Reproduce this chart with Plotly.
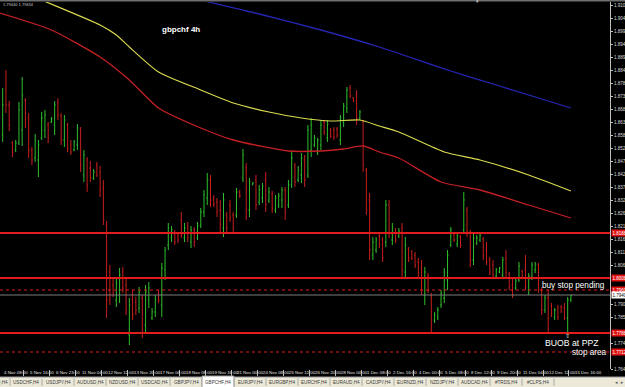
import plotly.graph_objects as go

# ---------------- DATA (GBPCHF H4, prices x 10000) ----------------
open_x1e4 = [18580,18760,18700,18548,18520,18548,18600,18720,18648,18520,
 18488,18480,18568,18600,18620,18632,18620,18708,18656,18560,
 18620,18540,18520,18540,18600,18420,18480,18448,18408,18460,
 18432,18368,18220,18032,17980,17920,17960,18032,17980,17780,
 17920,17912,17888,17928,17820,17920,17848,17872,17948,17900,
 18040,18140,18168,18192,18180,18240,18168,18216,18152,18200,
 18168,18220,18272,18328,18400,18328,18312,18280,18208,18260,
 18300,18260,18260,18352,18408,18448,18280,18380,18400,18312,
 18328,18400,18320,18344,18280,18300,18320,18360,18300,18380,
 18460,18400,18420,18480,18420,18520,18540,18520,18540,18632,
 18568,18600,18600,18604,18560,18632,18688,18768,18728,18740,
 18648,18632,18440,18320,18100,18120,18176,18160,18152,18300,
 18160,18200,18176,18208,18032,18124,18112,18100,18072,18048,
 17940,18016,17936,17840,17852,17900,17928,18000,18140,18184,
 18144,18172,18200,18280,18188,18080,18148,18160,18164,18120,
 18080,18060,18016,18032,18020,18088,18024,17980,17968,18000,
 18036,18040,17960,18012,18040,18060,17960,17880,17928,17896,
 17852,17888,17892,17888,17848,17920]
high_x1e4 = [18768,18840,18716,18556,18560,18712,18812,18728,18668,18532,
 18584,18560,18672,18680,18632,18652,18716,18728,18668,18660,
 18628,18560,18560,18624,18612,18520,18492,18476,18444,18472,
 18456,18400,18236,18060,18008,18008,18048,18052,18012,17928,
 17960,17932,17972,17940,17980,17992,17888,17940,17960,18068,
 18132,18228,18216,18200,18188,18272,18228,18232,18216,18212,
 18232,18288,18360,18428,18420,18340,18328,18320,18348,18272,
 18320,18272,18368,18360,18524,18468,18408,18392,18420,18380,
 18388,18432,18372,18356,18340,18348,18372,18372,18400,18516,
 18468,18456,18508,18500,18620,18648,18580,18568,18640,18640,
 18640,18608,18612,18612,18660,18708,18772,18780,18732,18760,
 18680,18640,18448,18348,18172,18172,18188,18172,18320,18320,
 18228,18208,18208,18228,18172,18132,18120,18112,18088,18080,
 18052,18028,17948,17872,17892,17960,18048,18120,18212,18188,
 18188,18180,18352,18292,18200,18192,18180,18188,18172,18152,
 18092,18080,18048,18052,18092,18120,18032,18012,18008,18072,
 18040,18100,18028,18072,18072,18068,17972,17940,17960,17908,
 17888,17900,17900,17908,17932,17940]
low_x1e4 = [18552,18668,18596,18492,18512,18540,18536,18608,18488,18460,
 18472,18412,18560,18568,18548,18628,18580,18640,18540,18532,
 18512,18500,18516,18520,18432,18392,18352,18392,18400,18412,
 18332,18220,17848,17900,17932,17892,17908,17948,17860,17740,
 17840,17860,17868,17768,17792,17888,17840,17852,17908,17852,
 18000,18120,18152,18140,18148,18168,18152,18152,18128,18132,
 18160,18208,18252,18300,18292,18292,18252,18192,18172,18192,
 18232,18192,18248,18328,18392,18240,18252,18380,18280,18300,
 18308,18272,18308,18268,18268,18288,18288,18240,18288,18368,
 18372,18392,18388,18372,18408,18492,18532,18500,18520,18580,
 18552,18568,18560,18568,18540,18612,18668,18728,18712,18620,
 18640,18432,18260,18080,18080,18108,18128,18072,18132,18168,
 18140,18148,18168,18012,18012,18072,18080,18048,18012,17940,
 17900,17948,17788,17828,17840,17888,17908,17960,18132,18152,
 18132,18128,18188,18172,18052,18060,18140,18152,18080,18060,
 18020,18008,18012,18028,18008,18012,17960,17928,17960,17992,
 18008,17960,17940,18000,18028,17948,17860,17868,17788,17852,
 17840,17840,17868,17840,17792,17912]
close_x1e4 = [18700,18700,18620,18512,18548,18680,18740,18640,18520,18480,
 18560,18540,18648,18660,18568,18644,18700,18660,18560,18640,
 18528,18512,18552,18608,18460,18500,18380,18408,18432,18420,
 18360,18240,17920,17940,17952,17988,18020,17968,17880,17900,
 17860,17880,17952,17800,17952,17968,17872,17920,17920,18048,
 18120,18208,18200,18152,18160,18180,18208,18168,18200,18152,
 18216,18272,18340,18400,18320,18304,18272,18220,18320,18208,
 18248,18208,18352,18336,18500,18280,18392,18388,18300,18360,
 18376,18300,18352,18288,18328,18336,18360,18272,18380,18488,
 18392,18440,18488,18400,18600,18620,18568,18560,18620,18592,
 18624,18576,18572,18580,18648,18696,18760,18736,18716,18648,
 18672,18460,18280,18120,18152,18160,18140,18088,18300,18192,
 18208,18160,18196,18040,18140,18088,18088,18060,18028,17960,
 18032,17960,17820,17860,17880,17948,18032,18100,18200,18160,
 18176,18140,18320,18192,18080,18168,18168,18180,18100,18072,
 18032,18020,18040,18048,18080,18032,17972,17940,17996,18056,
 18012,17972,18016,18060,18064,17960,17880,17928,17848,17864,
 17880,17852,17876,17848,17920,17940]

# moving averages (bar index, price)
ma_blue_idx = [58, 61, 79, 98, 116, 137, 153, 175]
ma_blue = [1.9132, 1.9120, 1.9064, 1.9000, 1.8932, 1.8840, 1.8776, 1.8688]
ma_yellow_idx = [10, 12, 30, 35, 39, 48, 61, 71, 82, 92, 101, 110, 116, 122, 136, 147, 162, 175]
ma_yellow = [1.9132, 1.9120, 1.9020, 1.8980, 1.8932, 1.8832, 1.8760, 1.8708, 1.8672, 1.8648,
             1.8636, 1.8640, 1.8616, 1.8592, 1.8512, 1.8480, 1.8420, 1.8356]
ma_red_idx = [-1, 15, 30, 39, 48, 61, 71, 88, 98, 105, 111, 116, 122, 135, 147, 162, 175]
ma_red = [1.9068, 1.9000, 1.8892, 1.8800, 1.8688, 1.8608, 1.8560, 1.8516, 1.8516, 1.8524,
          1.8536, 1.8512, 1.8488, 1.8392, 1.8360, 1.8300, 1.8248]

# horizontal levels
solid_levels = [1.8188, 1.8008, 1.7788]
dotted_levels = [1.7960, 1.7712]
bid_price = 1.7940

# price axis tick labels (those hidden under the level labels are left out)
price_ticks = [1.9100, 1.9048, 1.8996, 1.8944, 1.8892, 1.8840, 1.8788, 1.8736, 1.8684, 1.8632,
               1.8580, 1.8528, 1.8476, 1.8424, 1.8372, 1.8320, 1.8268, 1.8216, 1.8164, 1.8112,
               1.8060, 1.7904, 1.7852, 1.7748, 1.7644]

# time labels (every 8 bars)
time_labels = ["4 Nov 08:00", "5 Nov 16:00", "6 Nov 23:00", "11 Nov 04:00", "12 Nov 12:00",
               "13 Nov 20:00", "17 Nov 04:00", "18 Nov 08:00", "19 Nov 16:00", "21 Nov 00:00",
               "24 Nov 08:00", "25 Nov 12:00", "26 Nov 20:00", "28 Nov 04:00", "1 Dec 08:00",
               "2 Dec 16:00", "4 Dec 00:00", "5 Dec 08:00", "8 Dec 12:00", "9 Dec 20:00",
               "11 Dec 04:00", "12 Dec 12:00", "15 Dec 16:00"]
time_label_bars = [8 * k for k in range(len(time_labels))]

tabs = ["EURUSD,H4", "USDCHF,H4", "USDJPY,H4", "AUDUSD,H4", "NZDUSD,H4", "USDCAD,H4",
        "GBPJPY,H4", "GBPCHF,H4", "EURJPY,H4", "EURGBP,H4", "EURCHF,H4", "EURAUD,H4",
        "CADJPY,H4", "EURNZD,H4", "NZDJPY,H4", "AUDCAD,H4", "#TRDS,H4", "#CLPS,H4"]
active_tab = "GBPCHF,H4"

# ---------------- FIGURE ----------------
W, H = 625, 387
PL, PR, PT, PB = 0, 610, 2, 369
FONT = "Liberation Sans, Arial, sans-serif"
GREEN = "#2EC02E"
RED = "#C81E1E"
LEVEL_RED = "#E01C1C"


def px(X):
    return (X - PL) / (PR - PL)


def py(Y):
    return (PB - Y) / (PB - PT)


o = [v / 10000 for v in open_x1e4]
h = [v / 10000 for v in high_x1e4]
l = [v / 10000 for v in low_x1e4]
c = [v / 10000 for v in close_x1e4]
bars = list(range(len(o)))

fig = go.Figure()
fig.add_trace(go.Scatter(x=ma_blue_idx, y=ma_blue, mode="lines", hoverinfo="skip",
                         line=dict(color="#2626B4", width=1.3, shape="spline", smoothing=0.6)))
fig.add_trace(go.Scatter(x=ma_yellow_idx, y=ma_yellow, mode="lines", hoverinfo="skip",
                         line=dict(color="#DADA50", width=1.1, shape="spline", smoothing=0.6)))
fig.add_trace(go.Scatter(x=ma_red_idx, y=ma_red, mode="lines", hoverinfo="skip",
                         line=dict(color="#C42024", width=1.3, shape="spline", smoothing=0.6)))
fig.add_trace(go.Ohlc(x=bars, open=o, high=h, low=l, close=c, tickwidth=0.3,
                      increasing=dict(line=dict(color=GREEN, width=1)),
                      decreasing=dict(line=dict(color=RED, width=1)),
                      hoverinfo="skip", showlegend=False))

shapes = []
for lv in solid_levels:
    shapes.append(dict(type="line", xref="paper", yref="y", x0=0, x1=1, y0=lv, y1=lv,
                       line=dict(color=LEVEL_RED, width=2)))
for lv in dotted_levels:
    shapes.append(dict(type="line", xref="paper", yref="y", x0=0, x1=1, y0=lv, y1=lv,
                       line=dict(color=LEVEL_RED, width=1, dash="dot")))
shapes.append(dict(type="line", xref="paper", yref="y", x0=0, x1=1, y0=bid_price, y1=bid_price,
                   line=dict(color="#7C7C7C", width=1)))
# top strip
shapes.append(dict(type="rect", xref="paper", yref="paper", x0=px(0), x1=px(W), y0=py(1.6), y1=py(-1),
                   line=dict(width=0), fillcolor="#6E6E6E", layer="above"))
# tab bar
shapes.append(dict(type="rect", xref="paper", yref="paper", x0=px(0), x1=px(W), y0=py(387.5), y1=py(377),
                   line=dict(width=0), fillcolor="#ECE9D8", layer="above"))
shapes.append(dict(type="line", xref="paper", yref="paper", x0=px(0), x1=px(W), y0=py(377), y1=py(377),
                   line=dict(color="#9A9A9A", width=1), layer="above"))

annotations = []
TAB_W = 32
for k, name in enumerate(tabs):
    x0 = 10 + TAB_W * (k - 1)
    x1 = x0 + TAB_W
    if name == active_tab:
        shapes.append(dict(type="rect", xref="paper", yref="paper", x0=px(x0), x1=px(x1),
                           y0=py(387.5), y1=py(376), fillcolor="#FFFFFF",
                           line=dict(color="#9A9A9A", width=1), layer="above"))
    shapes.append(dict(type="line", xref="paper", yref="paper", x0=px(x1), x1=px(x1),
                       y0=py(386), y1=py(378.5), line=dict(color="#A8A8A8", width=1), layer="above"))
    annotations.append(dict(text=name, xref="paper", yref="paper", x=px((x0 + x1) / 2), y=py(382.3),
                            xanchor="center", yanchor="middle", showarrow=False,
                            font=dict(family=FONT, size=4.6, color="#3A3A3A")))
annotations.append(dict(text="◂  ▸", xref="paper", yref="paper", x=px(619), y=py(382),
                        xanchor="center", yanchor="middle", showarrow=False,
                        font=dict(family="DejaVu Sans", size=5, color="#606060")))

# time labels
for b, t in zip(time_label_bars, time_labels):
    annotations.append(dict(text=t, xref="x", yref="paper", x=b, y=py(372.5), xshift=-1,
                            xanchor="left", yanchor="middle", showarrow=False,
                            font=dict(family=FONT, size=4.4, color="#E0E0E0")))

# level labels on price axis
for lv in solid_levels + dotted_levels:
    annotations.append(dict(text=f"{lv:.5f}", xref="paper", yref="y", x=px(611), y=lv,
                            xanchor="left", yanchor="middle", showarrow=False, borderpad=0.6,
                            bgcolor="#E01010", font=dict(family=FONT, size=4.5, color="#FFFFFF")))
annotations.append(dict(text=f"{bid_price:.5f}", xref="paper", yref="y", x=px(611), y=bid_price,
                        xanchor="left", yanchor="middle", showarrow=False, borderpad=0.6,
                        bgcolor="#FFFFFF", font=dict(family=FONT, size=4.5, color="#000000")))

# chart texts
annotations += [
    dict(text="<b>gbpchf 4h</b>", xref="paper", yref="paper", x=px(160), y=py(29.5),
         xanchor="left", yanchor="middle", showarrow=False,
         font=dict(family=FONT, size=8, color="#FFFFFF")),
    dict(text="buy stop pending", xref="paper", yref="paper", x=px(539.5), y=py(285),
         xanchor="left", yanchor="middle", showarrow=False,
         font=dict(family=FONT, size=8.2, color="#FFFFFF")),
    dict(text="BUOB at PPZ", xref="paper", yref="paper", x=px(542.5), y=py(343.3),
         xanchor="left", yanchor="middle", showarrow=False,
         font=dict(family=FONT, size=8.7, color="#FFFFFF")),
    dict(text="stop area", xref="paper", yref="paper", x=px(569.5), y=py(352.2),
         xanchor="left", yanchor="middle", showarrow=False,
         font=dict(family=FONT, size=8.2, color="#FFFFFF")),
    dict(text="⇧", xref="paper", yref="paper", x=px(567.5), y=py(335.8),
         xanchor="center", yanchor="middle", showarrow=False,
         font=dict(family="DejaVu Sans", size=6, color="#FFFFFF")),
    dict(text="1.79440 1.79434", xref="paper", yref="paper", x=px(1), y=py(4.3),
         xanchor="left", yanchor="middle", showarrow=False,
         font=dict(family=FONT, size=4, color="#C8C8C8")),
    dict(text="▾", xref="paper", yref="paper", x=px(477), y=py(1.5),
         xanchor="center", yanchor="middle", showarrow=False,
         font=dict(family="DejaVu Sans", size=5, color="#D0D0D0")),
]

x_left = (PL - 2.7) / 3.247
x_right = (PR - 2.7) / 3.247
y_top = 1.9120 - 0.0004 * PT
y_bot = 1.9120 - 0.0004 * PB

fig.update_layout(
    width=W, height=H, margin=dict(l=PL, r=W - PR, t=PT, b=H - PB),
    paper_bgcolor="#000000", plot_bgcolor="#000000", showlegend=False,
    font=dict(family=FONT, color="#FFFFFF"),
    shapes=shapes, annotations=annotations, hovermode=False,
    xaxis=dict(range=[x_left, x_right], showgrid=False, zeroline=False, showticklabels=False,
               ticks="outside", tickvals=[b - 1.6 for b in time_label_bars], ticklen=6,
               tickcolor="#BBBBBB", tickwidth=1, showline=False, automargin=False,
               rangeslider=dict(visible=False), fixedrange=True),
    yaxis=dict(range=[y_bot, y_top], side="right", showgrid=False, zeroline=False,
               tickvals=price_ticks, ticktext=[f"{v:.5f}" for v in price_ticks],
               tickfont=dict(family=FONT, size=4.6, color="#DADADA"),
               ticks="outside", ticklen=2, tickcolor="#C0C0C0",
               showline=True, linecolor="#C0C0C0", linewidth=1, automargin=False, fixedrange=True),
)

fig.write_html("out.html")
